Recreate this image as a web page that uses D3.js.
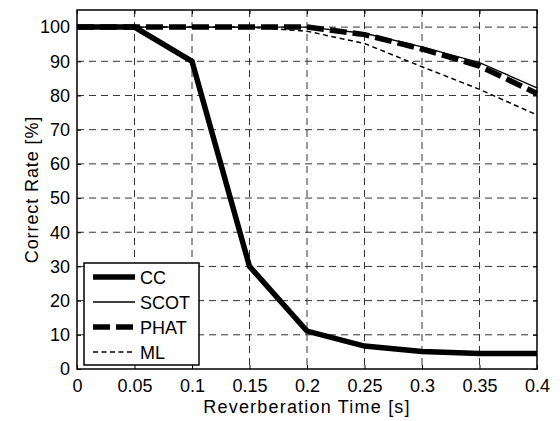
<!DOCTYPE html>
<html>
<head>
<meta charset="utf-8">
<script src="https://cdn.jsdelivr.net/npm/d3@7"></script>
<style>
  body { margin: 0; background: #fff; }
  text { font-family: "Liberation Sans", Arial, sans-serif; fill: #000; }
</style>
</head>
<body>
<div id="chart"></div>
<script>
var svgWidth = 560;
var svgHeight = 421;

var margin = { top: 10, right: 23, bottom: 52, left: 77 };
var width = svgWidth - margin.left - margin.right;
var height = svgHeight - margin.top - margin.bottom;

// data
var times = [0, 0.05, 0.1, 0.15, 0.2, 0.25, 0.3, 0.35, 0.4];
var cc   = [100, 100, 90, 30, 11.1, 6.7, 5.1, 4.5, 4.5];
var scot = [100, 100, 100, 100, 100, 98.2, 94.2, 89.6, 82.2];
var phat = [100, 100, 100, 100, 100, 97.8, 93.6, 88.6, 80.6];
var ml   = [100, 100, 100, 100, 98.8, 95.2, 88.4, 81.8, 74.3];
var xTicks = [0, 0.05, 0.1, 0.15, 0.2, 0.25, 0.3, 0.35, 0.4];
var yTicks = [0, 10, 20, 30, 40, 50, 60, 70, 80, 90, 100];

var seriesNames = ["CC", "SCOT", "PHAT", "ML"];
var seriesValues = [cc, scot, phat, ml];
var seriesStyle = [
  { w: 5.5, dash: null },
  { w: 1.3, dash: null },
  { w: 5.5, dash: "17,6" },
  { w: 1.5, dash: "5,3.5" }
];

var svg = d3.select("#chart")
  .append("svg")
  .attr("width", svgWidth)
  .attr("height", svgHeight);

var chartGroup = svg.append("g")
  .attr("transform", `translate(${margin.left}, ${margin.top})`);

var x = d3.scaleLinear().domain([0, 0.4]).range([0, width]);
var y = d3.scaleLinear().domain([0, 105]).range([height, 0]);

// grid
chartGroup.append("g")
  .selectAll("line")
  .data(xTicks.slice(1, -1))
  .enter().append("line")
  .attr("x1", d => x(d)).attr("x2", d => x(d))
  .attr("y1", 0).attr("y2", height)
  .attr("stroke", "#333").attr("stroke-width", 1)
  .attr("stroke-dasharray", "7,5");

chartGroup.append("g")
  .selectAll("line")
  .data(yTicks.slice(1))
  .enter().append("line")
  .attr("x1", 0).attr("x2", width)
  .attr("y1", d => y(d)).attr("y2", d => y(d))
  .attr("stroke", "#333").attr("stroke-width", 1)
  .attr("stroke-dasharray", "7,5");

// axes
var bottomAxis = d3.axisBottom(x).tickValues(xTicks).tickSize(-4).tickPadding(10)
  .tickFormat(d => d3.format("")(+d.toFixed(2)));
var leftAxis = d3.axisLeft(y).tickValues(yTicks).tickSize(-4).tickPadding(7);

var gx = chartGroup.append("g")
  .attr("transform", `translate(0, ${height})`)
  .call(bottomAxis);
var gy = chartGroup.append("g").call(leftAxis);
[gx, gy].forEach(function(g) {
  g.select(".domain").remove();
  g.selectAll("text").style("font-size", "18px");
  g.selectAll("line").attr("stroke", "#000");
});

// top / right ticks
chartGroup.append("g").call(d3.axisTop(x).tickValues(xTicks).tickSize(-4).tickFormat(""))
  .select(".domain").remove();
chartGroup.append("g").attr("transform", `translate(${width},0)`)
  .call(d3.axisRight(y).tickValues(yTicks).tickSize(-4).tickFormat(""))
  .select(".domain").remove();

// lines
var line = d3.line()
  .x((d, i) => x(times[i]))
  .y(d => y(d));

seriesValues.forEach(function(vals, k) {
  chartGroup.append("path")
    .datum(vals)
    .attr("fill", "none")
    .attr("stroke", "#000")
    .attr("stroke-width", seriesStyle[k].w)
    .attr("stroke-dasharray", seriesStyle[k].dash)
    .attr("d", line);
});

// frame
chartGroup.append("rect")
  .attr("width", width).attr("height", height)
  .attr("fill", "none").attr("stroke", "#000").attr("stroke-width", 1.5);

// legend
var legend = chartGroup.append("g").attr("transform", "translate(7, 253)");
legend.append("rect")
  .attr("width", 115).attr("height", 102)
  .attr("fill", "#fff").attr("stroke", "#000").attr("stroke-width", 1.5);
seriesNames.forEach(function(name, k) {
  var yy = 14 + k * 25;
  legend.append("line")
    .attr("x1", 9).attr("x2", 51).attr("y1", yy).attr("y2", yy)
    .attr("stroke", "#000")
    .attr("stroke-width", seriesStyle[k].w)
    .attr("stroke-dasharray", seriesStyle[k].dash);
  legend.append("text")
    .attr("x", 56).attr("y", yy + 7)
    .style("font-size", "18px")
    .text(name);
});

// axis labels
svg.append("text")
  .attr("transform", `translate(${margin.left + width / 2}, 413)`)
  .attr("text-anchor", "middle")
  .style("font-size", "18px")
  .style("letter-spacing", "1.2px")
  .text("Reverberation Time [s]");

svg.append("text")
  .attr("transform", `translate(38, ${margin.top + height / 2}) rotate(-90)`)
  .attr("text-anchor", "middle")
  .style("font-size", "18px")
  .style("letter-spacing", "0.9px")
  .text("Correct Rate [%]");
</script>
</body>
</html>
